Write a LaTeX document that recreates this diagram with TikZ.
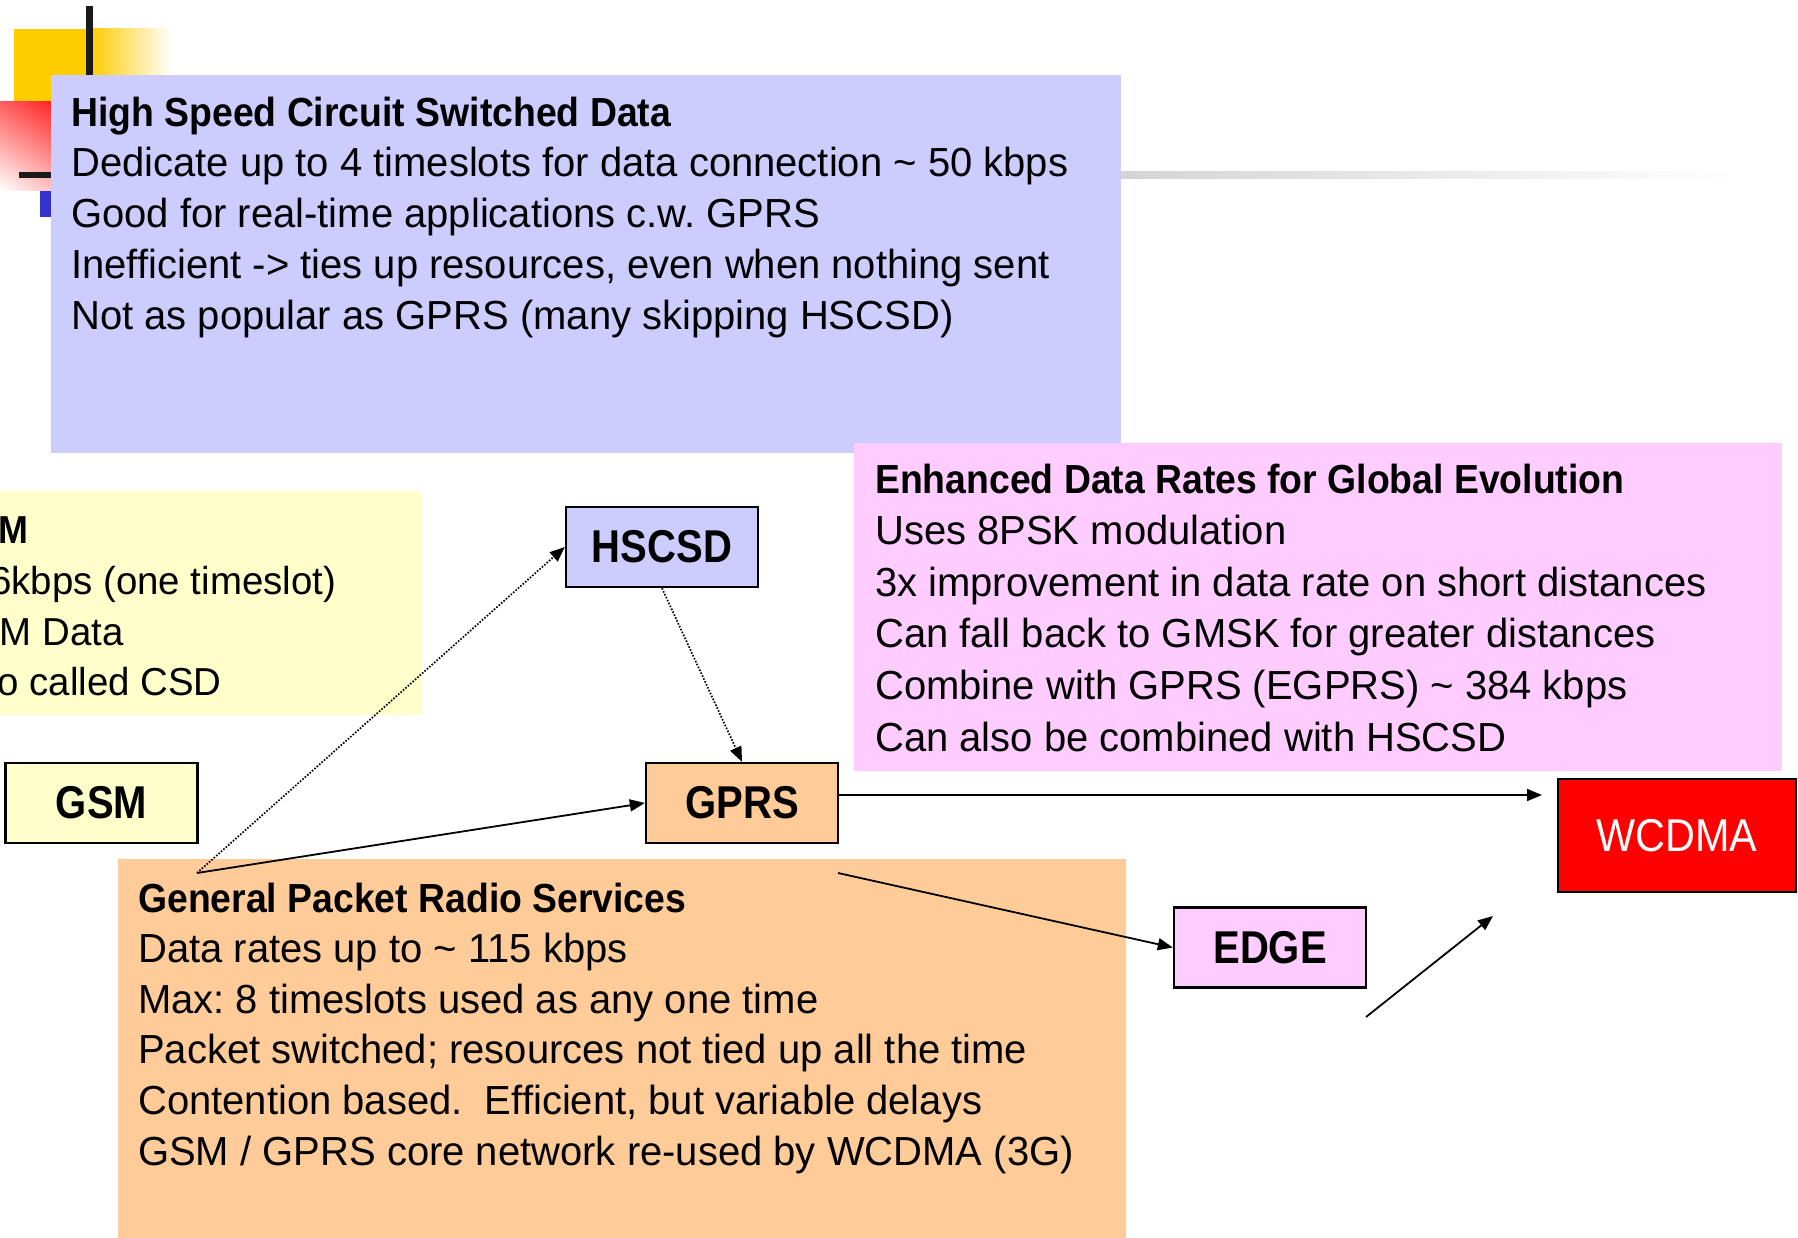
\documentclass[tikz,border=0pt]{standalone}
\usepackage{fontspec}
\setmainfont[FakeStretch=0.985]{Liberation Sans}
\newfontfamily\headfont[FakeStretch=0.92]{Liberation Sans}
\newfontfamily\labelfont[FakeStretch=0.87]{Liberation Sans}
\newfontfamily\wlabelfont[FakeStretch=0.90]{Liberation Sans}
\usetikzlibrary{arrows.meta,shadings}

\definecolor{hsblue}{HTML}{CCCCFF}
\definecolor{edgepink}{HTML}{FFCCFF}
\definecolor{gsmyellow}{HTML}{FFFFCC}
\definecolor{gprsorange}{HTML}{FFCC99}
\definecolor{decoyellow}{HTML}{FFCC00}
\definecolor{decoblue}{HTML}{3333CC}
\definecolor{decoblack}{HTML}{1A1A1A}
\definecolor{rulegray}{HTML}{D4D4D4}
\definecolor{wred}{HTML}{FF0000}
\definecolor{redA}{HTML}{FF6060}
\definecolor{redB}{HTML}{FF1E1E}
\definecolor{redC}{HTML}{FFBEBE}

\begin{document}
\frenchspacing
\begin{tikzpicture}[x=1pt,y=-1pt,
  panel/.style={rectangle, inner sep=0pt, outer sep=0pt, draw=none, anchor=north west},
  bodyline/.style={anchor=base west, inner sep=0pt, font=\fontsize{40.6}{49}\selectfont},
  gsmline/.style={anchor=base west, inner sep=0pt, font=\fontsize{39}{47}\selectfont},
  techbox/.style={rectangle, draw=black, line width=2.4pt, inner sep=0pt,
    minimum width=192pt, minimum height=80pt,
    font=\labelfont\bfseries\fontsize{46}{55}\selectfont},
  solidarrow/.style={line width=1.8pt, -{Triangle[length=15pt,width=12pt]}},
  dotarrow/.style={line width=1.7pt, dash pattern=on 1.6pt off 1.6pt,
    -{Triangle[length=15pt,width=12pt]}}
]
\useasboundingbox (0,0) rectangle (1798,1238);
\begin{scope}
\clip (0,0) rectangle (1798,1238);

% slide template ornament, top left
\fill[decoyellow] (14,29) rectangle (90,102);
\shade[left color=decoyellow, right color=white] (90,29) rectangle (172,102);
\shade[upper left=redA, upper right=redB, lower left=white, lower right=redC] (0,102) rectangle (58,191);
\fill[decoblack] (86,6) rectangle (93,90);
\fill[decoblack] (19,172) rectangle (58,178);
\fill[decoblue] (40,191) rectangle (58,217);

% description panels
\node[panel, fill=hsblue, minimum width=1070.5pt, minimum height=377.5pt] (hspanel) at (50.5,75.5) {};
\node[panel, fill=gsmyellow, minimum width=432pt, minimum height=224pt] (gsmpanel) at (-10,491) {};
\node[panel, fill=edgepink, minimum width=928pt, minimum height=328pt] (edpanel) at (854,443) {};
\node[panel, fill=gprsorange, minimum width=1008pt, minimum height=391pt] (gppanel) at (118,859) {};

% title rule fading to the right
\shade[left color=rulegray, right color=white] (hspanel.east |- 0,172) rectangle (1735,179);

% HSCSD description
\node[bodyline] (hs1) at (71,127) {\headfont\bfseries High Speed Circuit Switched Data};
\node[bodyline] (hs2) at (71,177) {Dedicate up to 4 timeslots for data connection \textasciitilde{} 50 kbps};
\node[bodyline] (hs3) at (71,228) {Good for real-time applications c.w. GPRS};
\node[bodyline] (hs4) at (71,279) {Inefficient -> ties up resources, even when nothing sent};
\node[bodyline] (hs5) at (71,330) {Not as popular as GPRS (many skipping HSCSD)};

% GSM description (runs off the left edge)
\node[gsmline] (gs1) at (-54,543) {\headfont\bfseries GSM};
\node[gsmline] (gs2) at (-42,594) {9.6kbps (one timeslot)};
\node[gsmline] (gs3) at (-56,645) {GSM Data};
\node[gsmline] (gs4) at (-56,695) {Also called CSD};

% EDGE description
\node[bodyline] (ed1) at (875,493) {\headfont\bfseries Enhanced Data Rates for Global Evolution};
\node[bodyline] (ed2) at (875,544.6) {Uses 8PSK modulation};
\node[bodyline] (ed3) at (875,596.2) {3x improvement in data rate on short distances};
\node[bodyline] (ed4) at (875,647.8) {Can fall back to GMSK for greater distances};
\node[bodyline] (ed5) at (875,699.4) {Combine with GPRS (EGPRS) \textasciitilde{} 384 kbps};
\node[bodyline] (ed6) at (875,751) {Can also be combined with HSCSD};

% GPRS description
\node[bodyline] (gp1) at (138,912) {\headfont\bfseries General Packet Radio Services};
\node[bodyline] (gp2) at (138,962.6) {Data rates up to \textasciitilde{} 115 kbps};
\node[bodyline] (gp3) at (138,1013.2) {Max: 8 timeslots used as any one time};
\node[bodyline] (gp4) at (138,1063.8) {Packet switched; resources not tied up all the time};
\node[bodyline] (gp5) at (138,1114.4) {Contention based.\ \ Efficient, but variable delays};
\node[bodyline] (gp6) at (138,1165) {GSM / GPRS core network re-used by WCDMA (3G)};

% technology boxes
\node[techbox, fill=gsmyellow] (gsm) at (101.5,803) {GSM};
\node[techbox, fill=hsblue] (hscsd) at (662,547) {HSCSD};
\node[techbox, fill=gprsorange] (gprs) at (742,803) {GPRS};
\node[techbox, fill=edgepink] (edge) at (1270,947.5) {EDGE};
\node[techbox, fill=wred, text=white, minimum width=238pt, minimum height=113pt,
      font=\wlabelfont\fontsize{46}{55}\selectfont] (wcdma) at (1677,835.5) {WCDMA};

% connector end points
\coordinate (hub) at (197,873);
\coordinate (wtip) at (1542,795);
\coordinate (edgetail) at (838,873);
\coordinate (risetail) at (1366,1017);
\coordinate (risetip) at (1493,916);

% connectors
\draw[dotarrow] (hub) -- (hscsd.west);
\draw[solidarrow] (hub) -- (gprs.west);
\draw[dotarrow] (hscsd.south) -- (gprs.north);
\draw[solidarrow] ([yshift=8pt]gprs.east) -- (wtip);
\draw[solidarrow] (edgetail) -- (edge.west);
\draw[solidarrow] (risetail) -- (risetip);
\end{scope}
\end{tikzpicture}
\end{document}
